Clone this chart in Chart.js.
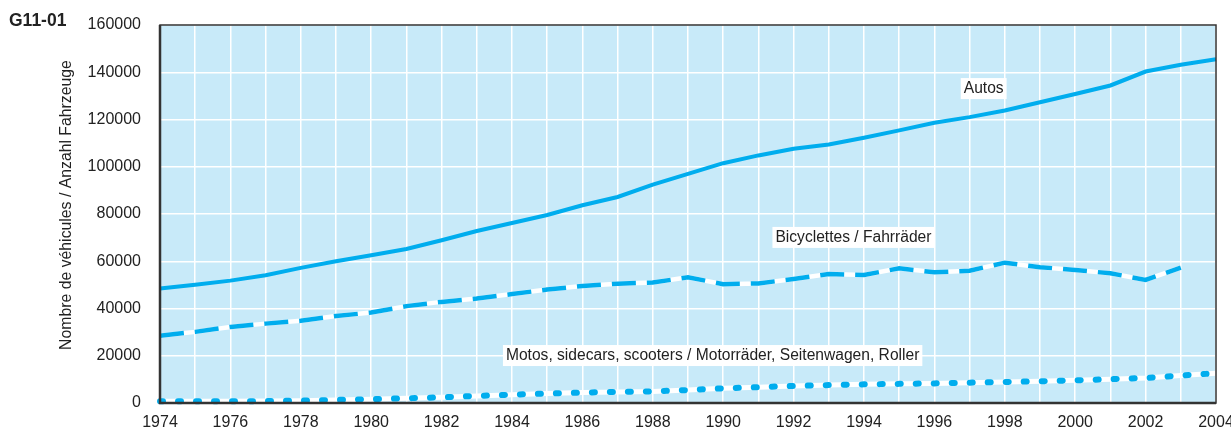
<!DOCTYPE html>
<html>
<head>
<meta charset="utf-8">
<script src="https://cdn.jsdelivr.net/npm/chart.js@4.4.1/dist/chart.umd.min.js"></script>
<style>
  html, body { margin: 0; padding: 0; background: #fff; }
  #wrap { width: 1231px; height: 434px; position: relative; }
</style>
</head>
<body>
<div id="wrap"><canvas id="chart"></canvas></div>
<script>
const years = [];
for (let y = 1974; y <= 2004; y++) years.push(y);

const autos = [48500, 50100, 51800, 54100, 57200, 60000, 62500, 65200, 68900, 72800,
  76200, 79600, 83700, 87200, 92400, 97000, 101500, 104800, 107600, 109400,
  112300, 115400, 118600, 121000, 123800, 127300, 130800, 134400, 140300, 143200, 145500];

const velos = [28500, 30100, 32200, 33600, 34800, 36800, 38300, 41000, 42800, 44200,
  46100, 48000, 49500, 50500, 51000, 53200, 50300, 50600, 52500, 54600,
  54200, 57000, 55300, 56000, 59400, 57500, 56300, 54900, 52100, 57300, null];

const motos = [700, 700, 700, 800, 1000, 1300, 1600, 2000, 2400, 3000,
  3500, 4000, 4400, 4700, 4900, 5500, 6200, 6700, 7200, 7600,
  7900, 8100, 8300, 8600, 8900, 9200, 9600, 10100, 10600, 11600, 12600];

const yTicks = [0, 20000, 40000, 60000, 80000, 100000, 120000, 140000, 160000];

const seriesLabels = [
  { text: "Autos", x: 1997.4, y: 133300 },
  { text: "Bicyclettes / Fahrräder", x: 1993.7, y: 70300 },
  { text: "Motos, sidecars, scooters / Motorräder, Seitenwagen, Roller", x: 1989.7, y: 20300 }
];

const BLUE = "#00adee";
const FONT = "'Liberation Sans', Arial, sans-serif";

const pts = arr => arr.map((v, i) => ({ x: years[i], y: v }));

const decor = {
  id: "decor",
  beforeDraw(chart) {
    const { ctx, chartArea: a } = chart;
    ctx.save();
    ctx.fillStyle = "#c8eaf9";
    ctx.fillRect(a.left, a.top, a.right - a.left, a.bottom - a.top);
    ctx.restore();
  },
  afterDatasetsDraw(chart) {
    const { ctx, chartArea: a, scales } = chart;
    ctx.save();
    // cadre
    ctx.strokeStyle = "#333";
    ctx.lineWidth = 1.5;
    ctx.strokeRect(a.left, a.top, a.right - a.left, a.bottom - a.top);
    ctx.lineWidth = 2.5;
    ctx.beginPath();
    ctx.moveTo(a.left, a.top);
    ctx.lineTo(a.left, a.bottom);
    ctx.lineTo(a.right, a.bottom);
    ctx.stroke();

    // étiquettes des séries
    ctx.font = "15.6px " + FONT;
    ctx.textAlign = "center";
    ctx.textBaseline = "middle";
    seriesLabels.forEach(l => {
      const px = scales.x.getPixelForValue(l.x);
      const py = scales.y.getPixelForValue(l.y);
      const w = ctx.measureText(l.text).width;
      ctx.fillStyle = "#fff";
      ctx.fillRect(px - w / 2 - 3, py - 10, w + 6, 21);
      ctx.fillStyle = "#222";
      ctx.fillText(l.text, px, py + 1);
    });

    // titre de l'axe y
    ctx.save();
    ctx.translate(67, 205);
    ctx.rotate(-Math.PI / 2);
    ctx.font = "15.8px " + FONT;
    ctx.fillStyle = "#222";
    ctx.fillText("Nombre de véhicules / Anzahl Fahrzeuge", 0, 0);
    ctx.restore();

    // numéro du graphique
    ctx.font = "bold 17.5px " + FONT;
    ctx.textAlign = "left";
    ctx.fillStyle = "#222";
    ctx.fillText("G11-01", 9, 21);
    ctx.restore();
  }
};

new Chart(document.getElementById("chart"), {
  type: "line",
  data: {
    datasets: [
      { data: pts(autos), borderColor: BLUE, borderWidth: 4, pointRadius: 0, order: 1 },
      { data: pts(velos), borderColor: BLUE, borderWidth: 4.5, borderDash: [24, 11], pointRadius: 0, order: 1 },
      { data: pts(velos), borderColor: "#fff", borderWidth: 4.5, pointRadius: 0, order: 2 },
      { data: pts(motos), borderColor: BLUE, borderWidth: 6, borderDash: [3, 15], borderCapStyle: "round", pointRadius: 0, order: 1 },
      { data: pts(motos), borderColor: "#fff", borderWidth: 5, pointRadius: 0, order: 2 }
    ]
  },
  options: {
    responsive: true,
    maintainAspectRatio: false,
    animation: false,
    clip: false,
    layout: { padding: { top: 25, right: 15, left: 0, bottom: 0 } },
    plugins: { legend: { display: false }, tooltip: { enabled: false } },
    scales: {
      x: {
        type: "linear",
        min: 1974,
        max: 2004,
        afterFit: s => { s.height = 31; s.paddingLeft = 0; s.paddingRight = 0; },
        afterBuildTicks: s => { s.ticks = years.map(v => ({ value: v })); },
        ticks: {
          autoSkip: false,
          maxRotation: 0,
          padding: 10,
          color: "#222",
          font: { family: FONT, size: 16 },
          callback: v => (v % 2 === 0 ? String(v) : "")
        },
        grid: { color: "#fff", lineWidth: 1.5, drawTicks: false },
        border: { display: false }
      },
      y: {
        min: 0,
        max: 160000,
        afterFit: s => { s.width = 160; s.paddingTop = 0; s.paddingBottom = 0; },
        afterBuildTicks: s => { s.ticks = yTicks.map(v => ({ value: v })); },
        ticks: {
          padding: 19,
          color: "#222",
          font: { family: FONT, size: 16 },
          callback: v => String(v)
        },
        grid: { color: "#fff", lineWidth: 1.5, drawTicks: false },
        border: { display: false }
      }
    }
  },
  plugins: [decor]
});
</script>
</body>
</html>
